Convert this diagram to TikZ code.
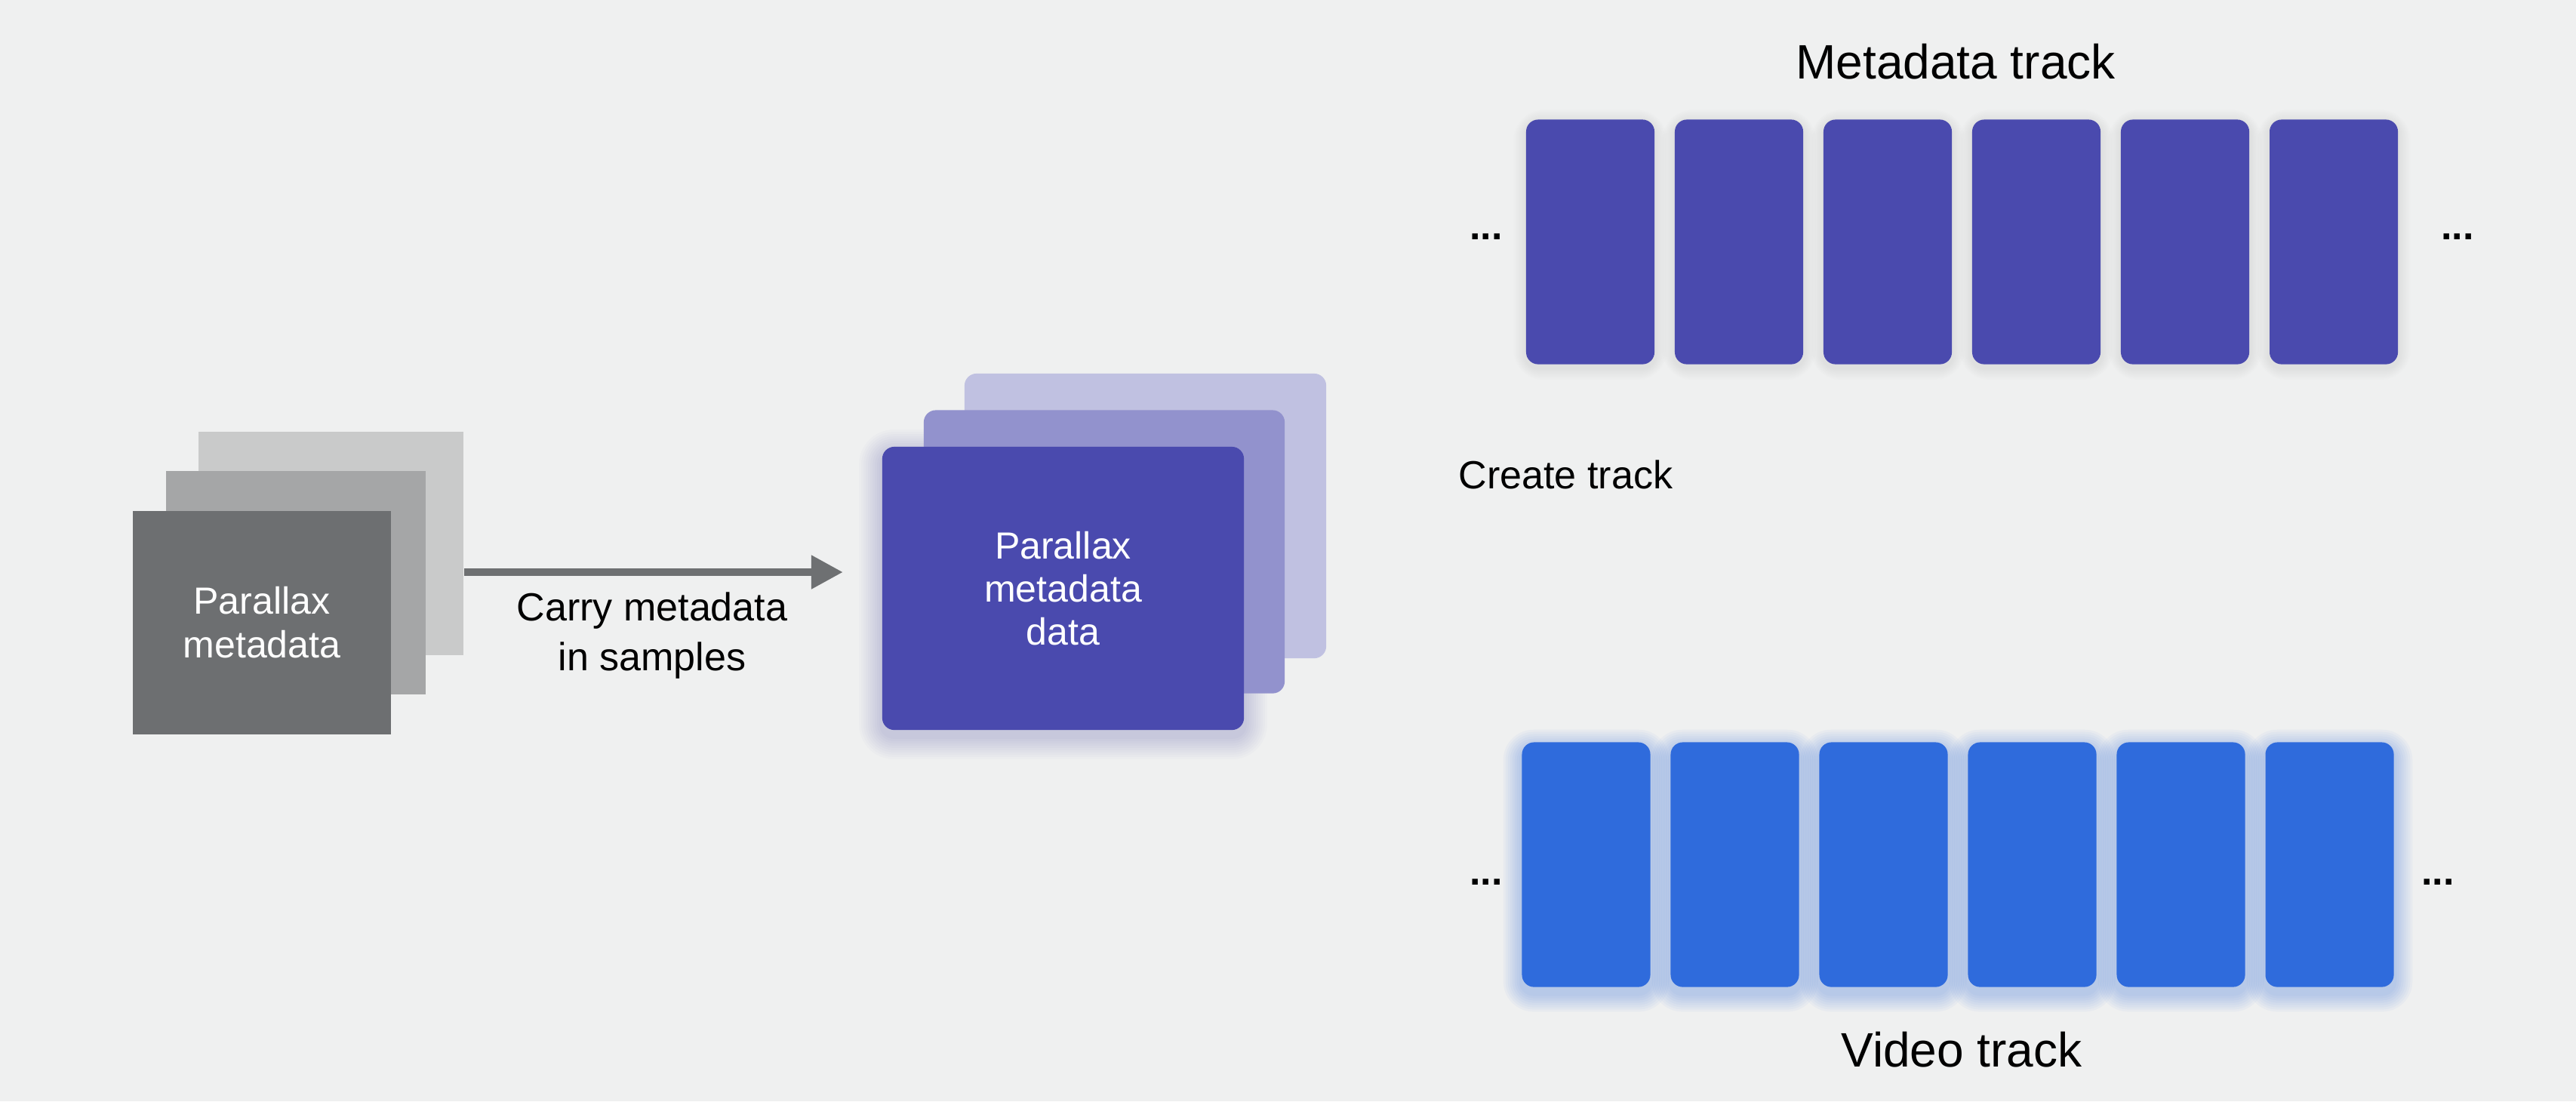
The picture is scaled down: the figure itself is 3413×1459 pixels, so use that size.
\documentclass[tikz,border=0pt]{standalone}
\usepackage{fontspec}
\setmainfont{Liberation Sans}
\usetikzlibrary{arrows.meta,backgrounds}
\definecolor{bgc}{HTML}{EFF0F0}
\definecolor{grayA}{HTML}{6D6F71}
\definecolor{grayB}{HTML}{A5A6A7}
\definecolor{grayC}{HTML}{C9CACA}
\definecolor{arrowc}{HTML}{6E7072}
\definecolor{purA}{HTML}{4A4AAE}
\definecolor{purB}{HTML}{9292CD}
\definecolor{purC}{HTML}{C0C1E1}
\definecolor{bluA}{HTML}{2F6BDC}
\definecolor{shadowc}{HTML}{9A9CA6}
\tikzset{
  card/.style={rectangle, inner sep=0pt, text=white, align=center},
  graycard/.style={card, font=\fontsize{14.23pt}{16.5pt}\selectfont},
  purcard/.style={card, rounded corners=0.16cm, font=\fontsize{14.23pt}{16.22pt}\selectfont},
  slot/.style={rectangle, rounded corners=0.16cm, minimum width=1.70cm, minimum height=3.24cm, inner sep=0pt},
  lbl/.style={font=\fontsize{14.8pt}{18.49pt}\selectfont, text=black, inner sep=0pt},
  ttl/.style={font=\fontsize{18.21pt}{22pt}\selectfont, text=black, inner sep=0pt},
  dotsnode/.style={font=\fontsize{14.8pt}{18pt}\selectfont\bfseries, text=black, inner sep=0pt},
  flow/.style={draw=arrowc, line width=0.105cm, -{Triangle[length=0.42cm,width=0.42cm]}},
}
\begin{document}
\begin{tikzpicture}[x=0.01cm,y=-0.01cm]
\begin{pgfonlayer}{background}
\fill[bgc] (0,0) rectangle (3413,1459);
\end{pgfonlayer}
\useasboundingbox (0,0) rectangle (3413,1459);

% gray stack
\node[graycard, fill=grayC, minimum width=3.51cm, minimum height=2.96cm] (g3) at (438.5,720) {};
\node[graycard, fill=grayB, minimum width=3.44cm, minimum height=2.96cm] (g2) at (392,772) {};
\node[graycard, fill=grayA, minimum width=3.42cm, minimum height=2.96cm] (g1) at (347,825) {Parallax\\metadata};

% arrow
\coordinate (tip) at (1117,758);
\draw[flow] (g3.east |- tip) -- (tip);
\node[lbl, align=center] (carry) at (864,842) {Carry metadata\\in samples};

% purple stack
\node[purcard, fill=purC, minimum width=4.79cm, minimum height=3.77cm] (p3) at (1517.5,683.5) {};
\node[purcard, fill=purB, minimum width=4.78cm, minimum height=3.75cm] (p2) at (1463,731) {};
\node[purcard, fill=purA, minimum width=4.79cm, minimum height=3.75cm] (p1) at (1408.5,779.5) {Parallax\\metadata\\data};

% tracks
\foreach \i in {0,...,5} {
  \node[slot, fill=purA] (m\i) at (2107+\i*197,320.5) {};
  \node[slot, fill=bluA] (v\i) at (2101.5+\i*197,1145.5) {};
}

\node[dotsnode, anchor=base] (ml) at (1969,317) {...};
\node[dotsnode, anchor=base] (mr) at (3256,317) {...};
\node[dotsnode, anchor=base] (vl) at (1969,1172) {...};
\node[dotsnode, anchor=base] (vr) at (3230,1172) {...};

\node[ttl, anchor=base] (mt) at (2591,104) {Metadata track};
\node[ttl, anchor=base] (vt) at (2599,1413) {Video track};
\node[lbl, anchor=base west] (ct) at (1932,647) {Create track};

% glows
\begin{pgfonlayer}{background}
\foreach \k [evaluate=\k as \glowr using 0.16+0.03*\k] in {1,...,10} {
  \fill[purA, opacity=0.022, rounded corners=\glowr cm]
    ([shift={(-3*\k,-3*\k+8)}]p1.north west) rectangle ([shift={(3*\k,3*\k+8)}]p1.south east);
}
\foreach \i in {0,...,5} {
  \foreach \k [evaluate=\k as \glowr using 0.16+0.03*\k] in {1,...,8} {
    \fill[bluA, opacity=0.04, rounded corners=\glowr cm]
      ([shift={(-3*\k,-3*\k+8)}]v\i.north west) rectangle ([shift={(3*\k,3*\k+8)}]v\i.south east);
    \fill[shadowc, opacity=0.02, rounded corners=\glowr cm]
      ([shift={(-2*\k,-2*\k+4)}]m\i.north west) rectangle ([shift={(2*\k,2*\k+4)}]m\i.south east);
  }
}
\end{pgfonlayer}
\end{tikzpicture}
\end{document}
